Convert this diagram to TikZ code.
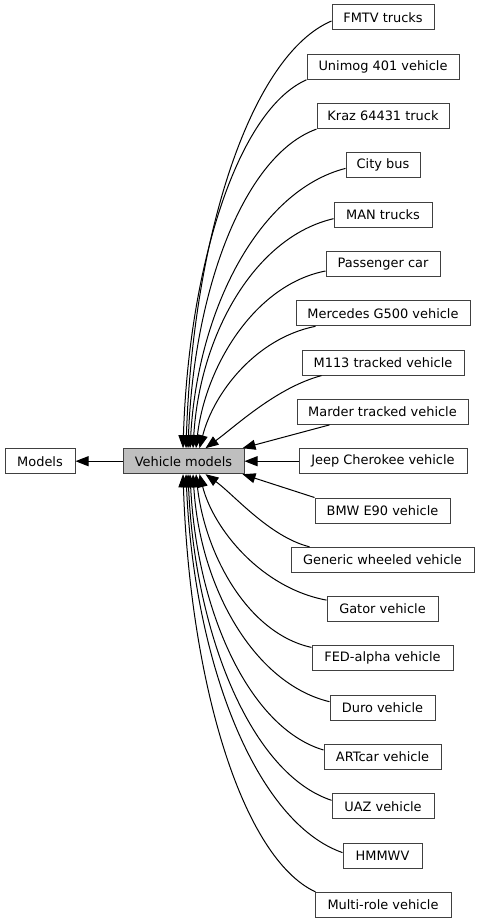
\documentclass[tikz,border=0pt]{standalone}
\usepackage{fontspec}
\setmainfont{DejaVu Sans}
\usetikzlibrary{arrows.meta,calc}
\definecolor{boxline}{RGB}{64,64,64}
\definecolor{vmfill}{RGB}{191,191,191}
\begin{document}
\begin{tikzpicture}[x=0.75pt,y=-0.75pt,
  bx/.style={draw=boxline,line width=0.75pt,fill=white,inner sep=0pt,
    minimum height=18.75pt,minimum width=#1*0.75pt,font=\fontsize{9.7pt}{11pt}\selectfont},
  edge/.style={draw=black,line width=0.75pt,-{Triangle[length=9.75pt,width=7.5pt]}}]
\useasboundingbox (0,0) rectangle (480,924);
\node[bx=70] (models) at (40,461.2) {Models};
\node[bx=121,fill=vmfill] (vm) at (183.5,461.2) {Vehicle models};
\node[bx=102] (fmtv) at (383,17.5) {FMTV trucks};
\node[bx=152] (unimog) at (383,66.8) {Unimog 401 vehicle};
\node[bx=132] (kraz) at (383,116.1) {Kraz 64431 truck};
\node[bx=74] (city) at (383,165.4) {City bus};
\node[bx=98] (man) at (383,214.7) {MAN trucks};
\node[bx=114] (pass) at (383,264.0) {Passenger car};
\node[bx=174] (merc) at (383,313.3) {Mercedes G500 vehicle};
\node[bx=162] (mtt) at (383,362.6) {M113 tracked vehicle};
\node[bx=171] (marder) at (382.5,411.9) {Marder tracked vehicle};
\node[bx=168] (jeep) at (383,461.2) {Jeep Cherokee vehicle};
\node[bx=135] (bmw) at (382.5,510.5) {BMW E90 vehicle};
\node[bx=183] (generic) at (382.5,559.8) {Generic wheeled vehicle};
\node[bx=111] (gator) at (382.5,609.1) {Gator vehicle};
\node[bx=141] (fed) at (382.5,658.4) {FED-alpha vehicle};
\node[bx=105] (duro) at (382.5,707.7) {Duro vehicle};
\node[bx=117] (art) at (382.5,757.0) {ARTcar vehicle};
\node[bx=102] (uaz) at (383,806.3) {UAZ vehicle};
\node[bx=79] (hmmwv) at (382.5,855.6) {HMMWV};
\node[bx=136] (multi) at (383,904.9) {Multi-role vehicle};
% edges
\draw[edge] (vm.west) -- (models.east);
\draw[edge] ($(fmtv.west)+(0,3.5)$) .. controls +(-80,34) and +(7,-214) .. ($(vm.north)+(2.5,0)$);
\draw[edge] (unimog.south west) .. controls +(-68,30) and +(6,-185) .. ($(vm.north)+(-0.5,0)$);
\draw[edge] (kraz.south west) .. controls +(-72,26) and +(6,-160) .. ($(vm.north)+(4.5,0)$);
\draw[edge] ($(city.west)+(0,3)$) .. controls +(-86,22) and +(8,-140) .. ($(vm.north)+(6.5,0)$);
\draw[edge] ($(man.west)+(0,4)$) .. controls +(-78,18) and +(7,-115) .. ($(vm.north)+(9.5,0)$);
\draw[edge] ($(pass.west)+(0,7)$) .. controls +(-72,14) and +(9,-80) .. ($(vm.north)+(12.5,0)$);
\draw[edge] ($(merc.south west)+(20,0)$) .. controls +(-60,12) and +(14,-55) .. ($(vm.north)+(16,0)$);
\draw[edge] ($(mtt.south west)+(20,0)$) .. controls +(-45,12) and +(30,-22) .. ($(vm.north)+(22,0)$);
\draw[edge] ($(marder.south west)+(33,0)$) -- ($(vm.north east)+(-2,0)$);
\draw[edge] (jeep.west) -- (vm.east);
\draw[edge] (bmw.north west) -- ($(vm.south east)+(-2,0)$);
\draw[edge] ($(generic.north west)+(19,0)$) .. controls +(-40,-10) and +(28,20) .. ($(vm.south)+(22,0)$);
\draw[edge] ($(gator.west)+(0,-9)$) .. controls +(-65,-12) and +(14,55) .. ($(vm.south)+(16,0)$);
\draw[edge] ($(fed.north west)+(0,2)$) .. controls +(-64,-14) and +(9,80) .. ($(vm.south)+(12.5,0)$);
\draw[edge] ($(duro.west)+(0,-6)$) .. controls +(-75,-18) and +(7,114) .. ($(vm.south)+(9.5,0)$);
\draw[edge] ($(art.west)+(0,-7)$) .. controls +(-74,-22) and +(7,138) .. ($(vm.south)+(6.5,0)$);
\draw[edge] ($(uaz.west)+(0,-6)$) .. controls +(-79,-26) and +(7,163) .. ($(vm.south)+(4.5,0)$);
\draw[edge] ($(hmmwv.west)+(0,-3)$) .. controls +(-86,-30) and +(8,190) .. ($(vm.south)+(2.5,0)$);
\draw[edge] ($(multi.north west)+(1,0)$) .. controls +(-73,-34) and +(7,210) .. ($(vm.south)+(-0.5,0)$);
\end{tikzpicture}
\end{document}
